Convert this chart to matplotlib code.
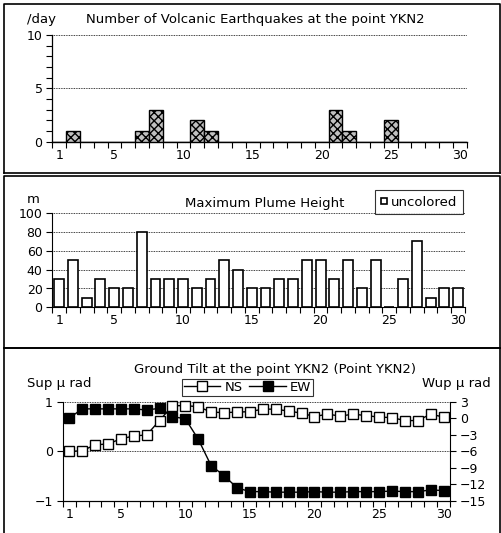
import matplotlib
matplotlib.use("Agg")
import matplotlib.pyplot as plt
from matplotlib.lines import Line2D
import numpy as np

plt.rcParams['font.family'] = ['DejaVu Sans']

days = list(range(1, 31))
quake_counts = [0, 1, 0, 0, 0, 0, 1, 3, 0, 0, 2, 1, 0, 0, 0, 0, 0, 0, 0, 0,
                3, 1, 0, 0, 2, 0, 0, 0, 0, 0]
plume_heights = [30, 50, 10, 30, 20, 20, 80, 30, 30, 30, 20, 30, 50, 40, 20,
                 20, 30, 30, 50, 50, 30, 50, 20, 50, 0, 30, 70, 10, 20, 20]
tilt_ns = [0.0, 0.01, 0.13, 0.15, 0.25, 0.31, 0.33, 0.62, 0.92, 0.92, 0.90,
           0.79, 0.78, 0.79, 0.80, 0.85, 0.85, 0.81, 0.77, 0.70, 0.75, 0.71,
           0.75, 0.72, 0.69, 0.68, 0.62, 0.62, 0.75, 0.69]
tilt_ew = [0.0, 1.7, 1.7, 1.7, 1.7, 1.7, 1.5, 1.8, 0.3, -0.1, -3.8, -8.6,
           -10.4, -12.6, -13.3, -13.3, -13.4, -13.4, -13.4, -13.3, -13.4,
           -13.4, -13.3, -13.3, -13.3, -13.2, -13.3, -13.3, -13.0, -13.1]
xtick_labels = [1, 5, 10, 15, 20, 25, 30]

W, H = 501, 533
fig = plt.figure(figsize=(W / 100, H / 100), dpi=100)

def fx(px):
    return px / W

def fy(py):
    return 1 - py / H

def add_ax(l, r, t, b):
    return fig.add_axes([fx(l), fy(b), fx(r) - fx(l), fy(t) - fy(b)])

FS = 9          # tick labels
TFS = 9.5       # titles / labels

def style_cat_x(ax):
    ax.set_xlim(0.5, 30.5)
    ax.set_xticks(xtick_labels)
    ax.set_xticklabels([str(v) for v in xtick_labels], fontsize=FS)
    ax.tick_params(axis='x', which='major', length=0, pad=5)
    ax.set_xticks(np.arange(0.5, 31, 1), minor=True)
    ax.tick_params(axis='x', which='minor', length=4, direction='out', width=0.8)

# frames
def frame(t, b, bottom=True):
    l, r = 3.5, 499.5
    xs = [fx(l), fx(l), fx(r), fx(r)]
    ys = [fy(b), fy(t), fy(t), fy(b)]
    fig.add_artist(Line2D(xs, ys, transform=fig.transFigure, color='black', lw=1.2))
    if bottom:
        fig.add_artist(Line2D([fx(l), fx(r)], [fy(b), fy(b)], transform=fig.transFigure,
                              color='black', lw=1.2))

frame(3.5, 172.5)
frame(175.5, 347.5)
frame(348, 540, bottom=False)

# ---------- Panel 1 ----------
ax1 = add_ax(52.3, 466.7, 35, 141.7)
ax1.bar(days, quake_counts, width=1.0, facecolor='#c0c0c0', edgecolor='black',
        hatch='xxxx', linewidth=1.0, zorder=3)
ax1.set_ylim(0, 10)
ax1.set_yticks([0, 5, 10])
ax1.set_yticklabels(['0', '5', '10'], fontsize=FS)
ax1.set_yticks(np.arange(0, 11, 1), minor=True)
ax1.tick_params(axis='y', which='both', length=4, width=0.8, pad=3)
style_cat_x(ax1)
for y in [5, 10]:
    ax1.axhline(y, color='black', lw=0.6, ls=(0, (1, 1)), zorder=1)
for s in ['top', 'right']:
    ax1.spines[s].set_visible(False)
ax1.spines['left'].set_linewidth(0.9)
ax1.spines['bottom'].set_linewidth(1.0)
fig.text(fx(27), fy(20), '/day', fontsize=TFS, va='center', ha='left')
fig.text(fx(255), fy(20), 'Number of Volcanic Earthquakes at the point YKN2',
         fontsize=TFS, va='center', ha='center')

# ---------- Panel 2 ----------
ax2 = add_ax(52.3, 465, 213.3, 307.3)
ax2.bar(days, plume_heights, width=0.72, facecolor='white', edgecolor='black',
        linewidth=1.2, zorder=3)
ax2.set_ylim(0, 100)
ax2.set_yticks(np.arange(0, 101, 20))
ax2.set_yticklabels([str(v) for v in range(0, 101, 20)], fontsize=FS)
ax2.tick_params(axis='y', which='both', length=4, width=0.8, pad=3)
style_cat_x(ax2)
for y in range(20, 101, 20):
    ax2.axhline(y, color='black', lw=0.6, ls=(0, (1, 1)), zorder=1)
for s in ['top', 'right']:
    ax2.spines[s].set_visible(False)
fig.text(fx(27), fy(200), 'm', fontsize=TFS, va='center', ha='left')
fig.text(fx(265), fy(203), 'Maximum Plume Height', fontsize=TFS, va='center', ha='center')
h_unc = Line2D([], [], marker='s', markersize=5, markerfacecolor='white',
               markeredgecolor='black', markeredgewidth=1.2, linestyle='none')
leg2 = fig.legend([h_unc], ['uncolored'], loc='center',
                  bbox_to_anchor=(fx(419), fy(202)), fontsize=TFS, frameon=True,
                  fancybox=False, handlelength=0.6, handletextpad=0.2,
                  borderpad=0.4, borderaxespad=0)
leg2.get_frame().set_edgecolor('black')
leg2.get_frame().set_linewidth(0.8)

# ---------- Panel 3 ----------
ax3 = add_ax(62.7, 450, 401.7, 501)
ax3.set_ylim(-1, 1)
ax3.set_yticks([-1, 0, 1])
ax3.set_yticklabels(['\u22121', '0', '1'], fontsize=FS)
ax3.tick_params(axis='y', which='both', length=4, width=0.8, pad=3)
style_cat_x(ax3)
ax3.axhline(0, color='black', lw=0.6, ls=(0, (1, 1)), zorder=1)
ax3.axhline(1, color='black', lw=0.6, ls=(0, (1, 1)), zorder=1)
ax3.spines['top'].set_visible(False)
ax3.spines['right'].set_visible(False)

ax3r = ax3.twinx()
ax3r.set_ylim(-15, 3)
ax3r.set_yticks(np.arange(-15, 4, 3))
ax3r.set_yticklabels([str(v).replace('-', '\u2212') for v in range(-15, 4, 3)], fontsize=FS)
ax3r.tick_params(axis='y', length=4, width=0.8, pad=3)
ax3r.spines['top'].set_visible(False)
ax3r.spines['left'].set_visible(False)

l_ew, = ax3r.plot(days, tilt_ew, color='black', lw=1.0, marker='s', markersize=6.5,
                  markerfacecolor='black', markeredgecolor='black', clip_on=False, zorder=3)
ax3.set_zorder(ax3r.get_zorder() + 1)
ax3.patch.set_visible(False)
l_ns, = ax3.plot(days, tilt_ns, color='black', lw=1.0, marker='s', markersize=6.5,
                 markerfacecolor='white', markeredgecolor='black', clip_on=False, zorder=3)

fig.text(fx(275), fy(370), 'Ground Tilt at the point YKN2 (Point YKN2)', fontsize=TFS,
         va='center', ha='center')
fig.text(fx(27), fy(384), 'Sup \u03bc rad', fontsize=TFS, va='center', ha='left')
fig.text(fx(491), fy(384), 'Wup \u03bc rad', fontsize=TFS, va='center', ha='right')
leg3 = fig.legend([l_ns, l_ew], ['NS', 'EW'], loc='center', ncol=2,
                  bbox_to_anchor=(fx(247.5), fy(387.5)), fontsize=TFS, frameon=True,
                  fancybox=False, handlelength=2.8, handletextpad=0.3,
                  columnspacing=0.5, borderpad=0.15, borderaxespad=0)
leg3.get_frame().set_edgecolor('black')
leg3.get_frame().set_linewidth(0.8)

fig.savefig('out.png', dpi=100)
